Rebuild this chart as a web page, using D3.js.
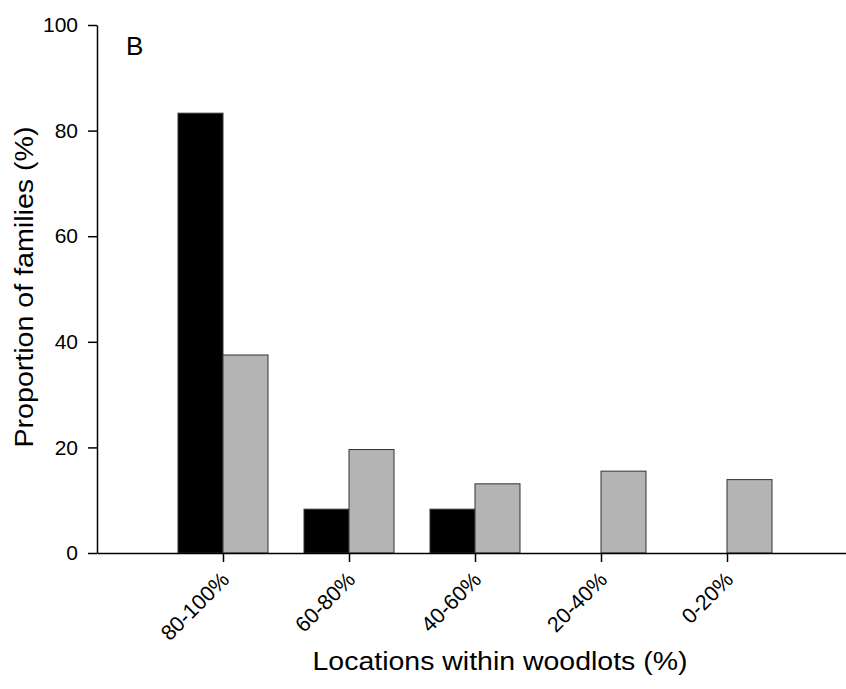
<!DOCTYPE html>
<html>
<head>
<meta charset="utf-8">
<script src="https://cdn.jsdelivr.net/npm/d3@7"></script>
<style>
  body { margin: 0; background: #fff; }
  svg { display: block; }
</style>
</head>
<body>
<svg id="chart" width="846" height="689"></svg>
<script>
const categories = ["80-100%", "60-80%", "40-60%", "20-40%", "0-20%"];
const seriesNames = ["black", "grey"];
const blackValues = [83.3, 8.3, 8.3, 0, 0];
const greyValues = [37.5, 19.6, 13.1, 15.5, 13.9];
const yTicks = [0, 20, 40, 60, 80, 100];

const width = 846, height = 689;
const svg = d3.select("#chart");
const font = "'Liberation Sans', Arial, sans-serif";

const x = d3.scalePoint().domain(categories).range([97, 853]).padding(1);
const sub = d3.scaleBand().domain(seriesNames).range([-45, 45]);
const y = d3.scaleLinear().domain([0, 100]).range([553, 25]);
const fills = { black: "#000000", grey: "#b4b4b4" };

const rows = categories.map((c, i) => ({ cat: c, black: blackValues[i], grey: greyValues[i] }));

// bars
svg.append("g")
  .selectAll("g")
  .data(rows)
  .join("g")
  .attr("transform", (d) => `translate(${x(d.cat)},0)`)
  .selectAll("rect")
  .data((d) => seriesNames.map((s) => ({ s, v: d[s] })).filter((e) => e.v > 0))
  .join("rect")
  .attr("x", (d) => sub(d.s))
  .attr("width", sub.bandwidth())
  .attr("y", (d) => y(d.v))
  .attr("height", (d) => y(0) - y(d.v))
  .attr("fill", (d) => fills[d.s])
  .attr("stroke", "#333")
  .attr("stroke-width", 1);

// y axis
const yAxis = svg.append("g")
  .attr("transform", "translate(97,0)")
  .call(d3.axisLeft(y).tickValues(yTicks).tickSize(9).tickSizeOuter(0).tickPadding(10));
yAxis.select(".domain").attr("stroke-width", 1.5);
yAxis.selectAll(".tick line").attr("stroke-width", 1.5);
yAxis.selectAll("text")
  .attr("font-family", font)
  .attr("font-size", 21)
  .attr("fill", "#000");

// x axis
const xAxis = svg.append("g")
  .attr("transform", `translate(0,${y(0)})`)
  .call(d3.axisBottom(x).tickSize(9).tickSizeOuter(0));
xAxis.select(".domain").attr("stroke-width", 1.5);
xAxis.selectAll(".tick line").attr("stroke-width", 1.5);
xAxis.selectAll("text")
  .attr("font-family", font)
  .attr("font-size", 21.5)
  .attr("fill", "#000")
  .attr("text-anchor", "end")
  .attr("dy", 0)
  .attr("y", 0)
  .attr("transform", "translate(7,28) rotate(-45)");

// panel letter
svg.append("text")
  .attr("x", 126)
  .attr("y", 55)
  .attr("font-family", font)
  .attr("font-size", 26)
  .text("B");

// axis titles
svg.append("text")
  .attr("x", 500)
  .attr("y", 670)
  .attr("text-anchor", "middle")
  .attr("font-family", font)
  .attr("font-size", 26)
  .attr("textLength", 375)
  .attr("lengthAdjust", "spacingAndGlyphs")
  .text("Locations within woodlots (%)");

svg.append("text")
  .attr("transform", "translate(33,287) rotate(-90)")
  .attr("text-anchor", "middle")
  .attr("font-family", font)
  .attr("font-size", 26)
  .attr("textLength", 321)
  .attr("lengthAdjust", "spacingAndGlyphs")
  .text("Proportion of families (%)");
</script>
</body>
</html>
